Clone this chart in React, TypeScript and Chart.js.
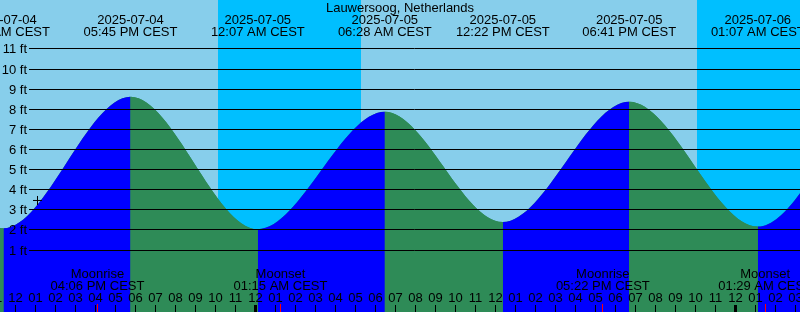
import { useEffect, useRef } from 'react';
import { Chart, registerables } from 'chart.js';

Chart.register(...registerables);

// ---- data (hours are relative to 2025-07-05 00:00 CEST) ----
const TITLE = 'Lauwersoog, Netherlands';

const tideHours = [-24.6, -18.8, -12.6, -6.25, 0.117, 6.467, 12.367, 18.683, 25.117, 31.3, 37.6];
const tideFeet = [2.3, 8.3, 2.06, 8.6, 2.01, 7.85, 2.37, 8.35, 2.14, 8.3, 2.4];
const tideDates = [
  '2025-07-03', '2025-07-04', '2025-07-04', '2025-07-04', '2025-07-05', '2025-07-05',
  '2025-07-05', '2025-07-05', '2025-07-06', '2025-07-06', '2025-07-06',
];
const tideTimes = [
  '11:24 PM CEST', '05:12 AM CEST', '11:24 AM CEST', '05:45 PM CEST', '12:07 AM CEST', '06:28 AM CEST',
  '12:22 PM CEST', '06:41 PM CEST', '01:07 AM CEST', '07:18 AM CEST', '01:36 PM CEST',
];

const nightStarts = [-1.875, 22.075];
const nightEnds = [5.275, 29.3];

const moonHours = [-7.9, 1.25, 17.367, 25.483];
const moonEvents = ['Moonrise', 'Moonset', 'Moonrise', 'Moonset'];
const moonTimes = ['04:06 PM CEST', '01:15 AM CEST', '05:22 PM CEST', '01:29 AM CEST'];

const markHours = [-10.9];
const markFeet = [3.44];

const ftTicks = [1, 2, 3, 4, 5, 6, 7, 8, 9, 10, 11];
const hourTicks = [
  -13, -12, -11, -10, -9, -8, -7, -6, -5, -4, -3, -2, -1, 0, 1, 2, 3, 4, 5, 6, 7, 8, 9, 10,
  11, 12, 13, 14, 15, 16, 17, 18, 19, 20, 21, 22, 23, 24, 25, 26, 27, 28,
];
const hourLabels = hourTicks.map((h) => {
  const d = ((h % 24) + 24) % 24;
  const h12 = d % 12 === 0 ? 12 : d % 12;
  return String(h12).padStart(2, '0');
});

// ---- style ----
const DAY = '#87CEEB';
const NIGHT = '#00BFFF';
const RISING = '#0000FF';
const FALLING = '#2E8B57';
const FONT = '13px "Liberation Sans", Arial, sans-serif';

const backgroundPlugin = {
  id: 'tideBackground',
  beforeDatasetsDraw(chart: any) {
    const { ctx, chartArea: a, scales } = chart;
    const x = scales.x;
    ctx.save();
    ctx.fillStyle = DAY;
    ctx.fillRect(a.left, a.top, a.right - a.left, a.bottom - a.top);
    ctx.fillStyle = NIGHT;
    nightStarts.forEach((s, i) => {
      const x0 = Math.round(x.getPixelForValue(s));
      const x1 = Math.round(x.getPixelForValue(nightEnds[i]));
      ctx.fillRect(x0, a.top, x1 - x0, a.bottom - a.top);
    });
    ctx.restore();
  },
};

const overlayPlugin = {
  id: 'tideOverlay',
  afterDatasetsDraw(chart: any) {
    const { ctx, chartArea: a, scales } = chart;
    const x = scales.x;
    const y = scales.y;
    ctx.save();
    ctx.strokeStyle = '#000';
    ctx.lineWidth = 1;
    ctx.font = FONT;
    ctx.fillStyle = '#000';
    ctx.textAlign = 'right';
    ctx.textBaseline = 'alphabetic';
    ftTicks.forEach((ft) => {
      const py = Math.round(y.getPixelForValue(ft)) + 0.5;
      ctx.beginPath();
      ctx.moveTo(29, py);
      ctx.lineTo(a.right, py);
      ctx.stroke();
      ctx.fillText(ft + ' ft', 27, py + 4);
    });

    ctx.textAlign = 'center';
    ctx.fillText(TITLE, (a.left + a.right) / 2, 12);

    tideHours.forEach((h, i) => {
      const px = x.getPixelForValue(h);
      ctx.fillText(tideDates[i], px, 24);
      ctx.fillText(tideTimes[i], px, 36);
    });

    moonHours.forEach((h, i) => {
      const px = x.getPixelForValue(h);
      ctx.fillText(moonEvents[i], px, 277.5);
      ctx.fillText(moonTimes[i], px, 290);
    });

    hourTicks.forEach((h, i) => {
      const px = x.getPixelForValue(h);
      ctx.fillStyle = '#000';
      ctx.fillText(hourLabels[i], px, 302);
      const d = ((h % 24) + 24) % 24;
      if (d === 0) {
        ctx.fillRect(Math.floor(px) - 1, 305, 3, 7);
      } else {
        ctx.fillRect(Math.floor(px), 305, 1, 7);
      }
    });

    ctx.fillStyle = '#FF0000';
    moonHours.forEach((h) => {
      const px = x.getPixelForValue(h);
      ctx.fillRect(Math.floor(px), 304, 1, 8);
    });
    ctx.restore();
  },
};

export default function App() {
  const ref = useRef<HTMLCanvasElement | null>(null);

  useEffect(() => {
    document.body.style.margin = '0';
    const canvas = ref.current;
    if (!canvas) return;
    const tidePoints = tideHours.map((h, i) => ({ x: h, y: tideFeet[i] }));
    const chart = new Chart(canvas, {
      type: 'line',
      data: {
        datasets: [
          {
            type: 'scatter',
            data: markHours.map((h, i) => ({ x: h, y: markFeet[i] })),
            pointStyle: 'cross',
            pointRadius: 4.5,
            pointBorderColor: '#000',
            pointBorderWidth: 1,
            showLine: false,
            order: 0,
          } as any,
          {
            data: tidePoints,
            cubicInterpolationMode: 'monotone',
            fill: 'start',
            borderWidth: 0,
            borderColor: 'transparent',
            backgroundColor: RISING,
            pointRadius: 0,
            order: 1,
            segment: {
              backgroundColor: (c: any) => (c.p1.parsed.y > c.p0.parsed.y ? RISING : FALLING),
            },
          } as any,
          {
            // underlay of the same water level so segment joins show no seams
            data: tidePoints,
            cubicInterpolationMode: 'monotone',
            fill: 'start',
            borderWidth: 0,
            borderColor: 'transparent',
            backgroundColor: FALLING,
            pointRadius: 0,
            order: 2,
          } as any,
        ],
      },
      options: {
        animation: false,
        responsive: false,
        devicePixelRatio: 1,
        layout: { padding: 0, autoPadding: false },
        events: [],
        plugins: {
          legend: { display: false },
          tooltip: { enabled: false },
          title: { display: false },
        },
        scales: {
          x: { type: 'linear', min: -12.775, max: 27.225, display: false },
          y: { type: 'linear', min: -2.106, max: 13.409, display: false },
        },
      },
      plugins: [backgroundPlugin, overlayPlugin],
    });
    return () => chart.destroy();
  }, []);

  return (
    <div style={{ position: 'absolute', left: 0, top: 0, width: 800, height: 312 }}>
      <canvas ref={ref} width={800} height={312} style={{ display: 'block', width: 800, height: 312 }} />
    </div>
  );
}
